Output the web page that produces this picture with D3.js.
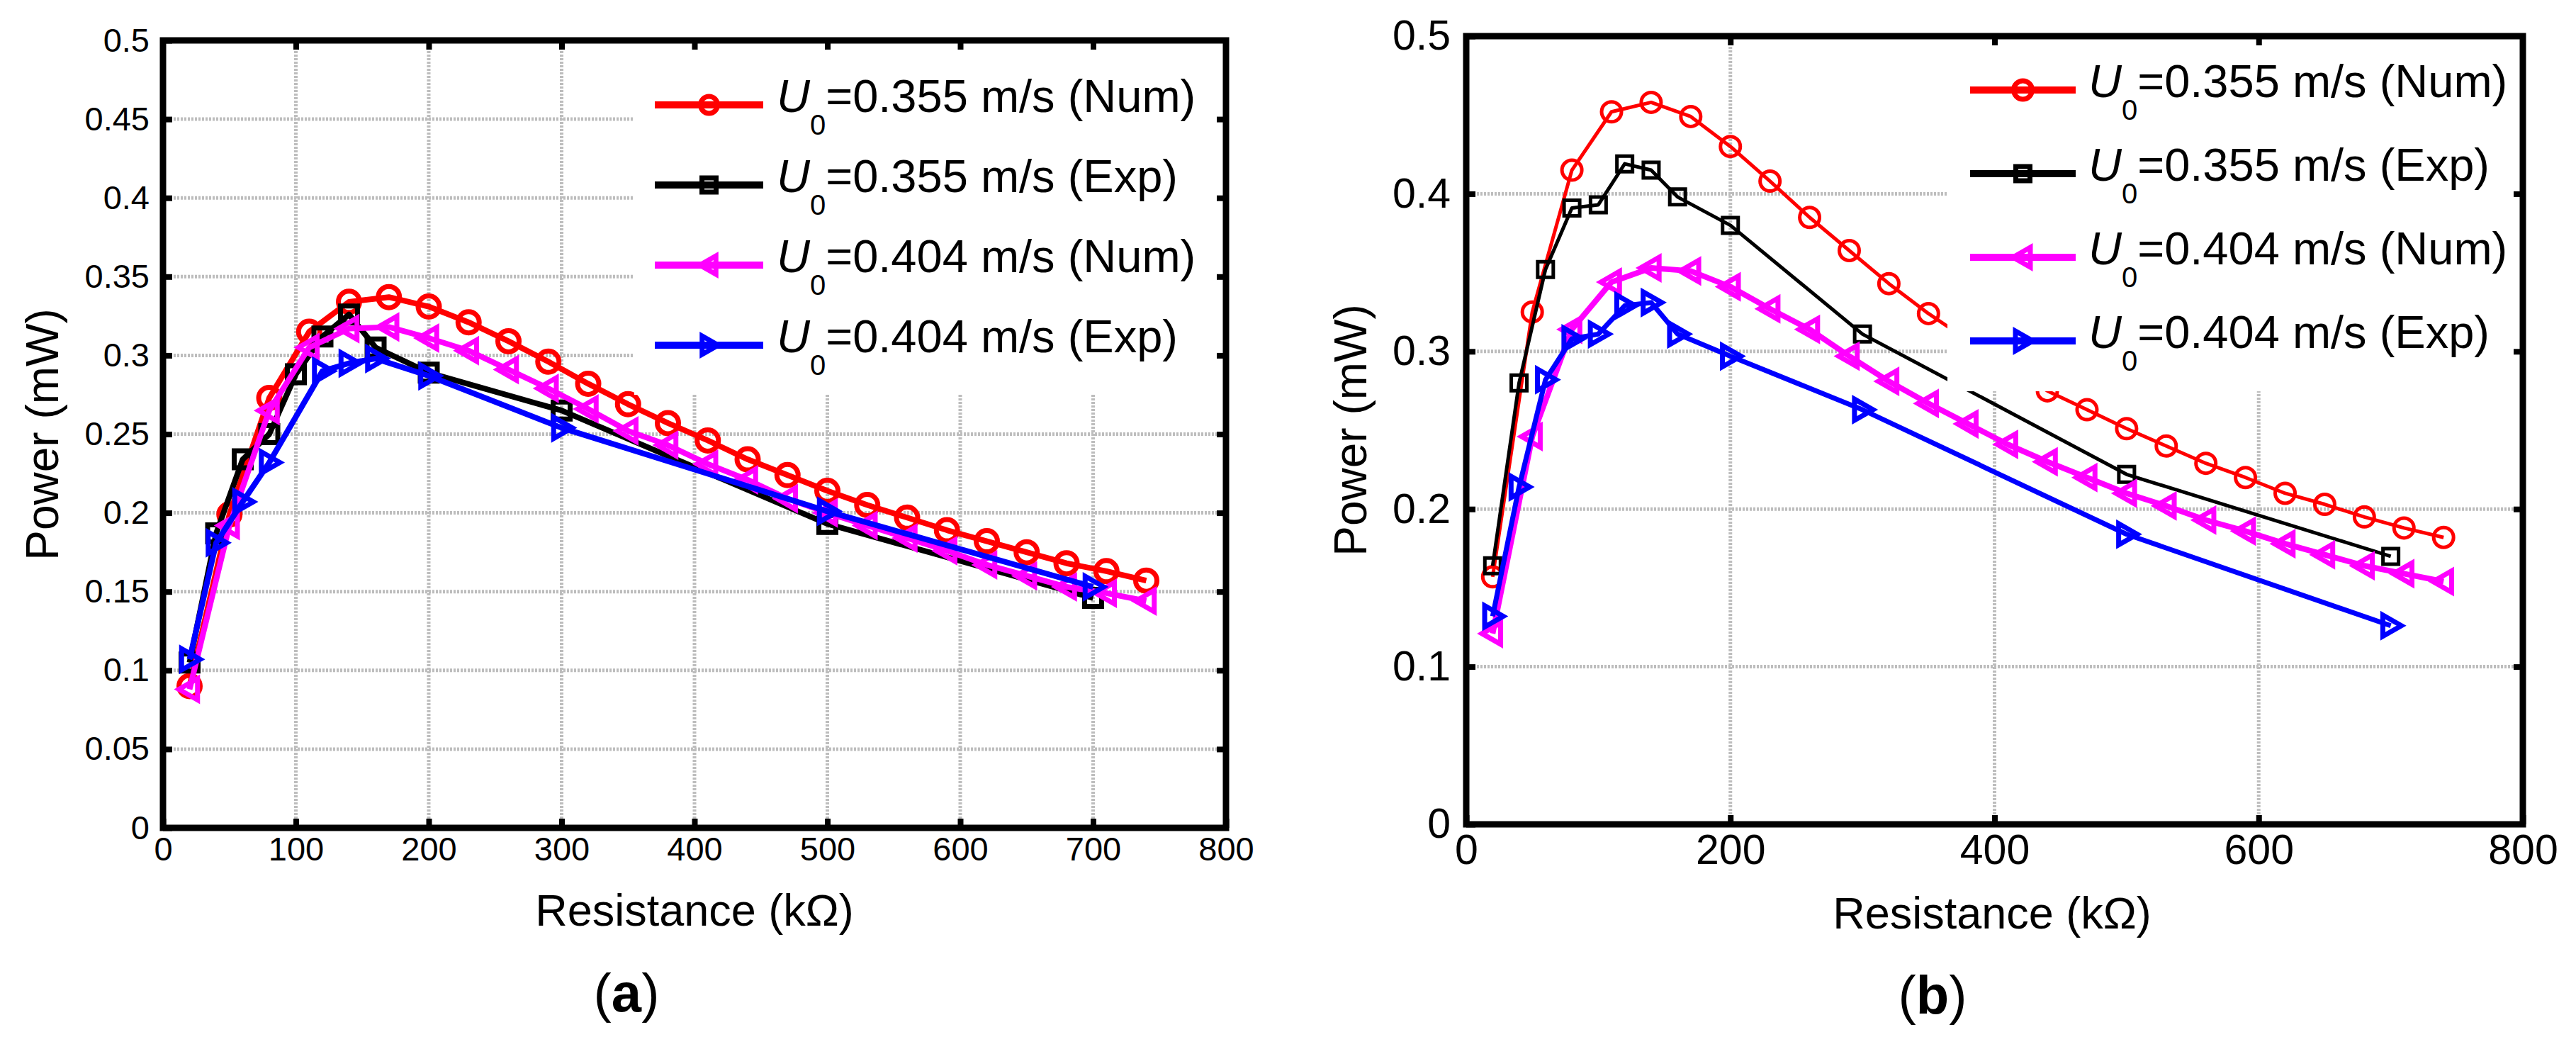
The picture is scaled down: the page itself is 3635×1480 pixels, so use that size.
<!DOCTYPE html>
<html>
<head>
<meta charset="utf-8">
<script src="https://cdn.jsdelivr.net/npm/d3@7"></script>
<style>
  body { margin: 0; background: #fff; }
  svg { display: block; }
  text { font-family: "Liberation Sans", Arial, sans-serif; fill: #000; }
</style>
</head>
<body>
<div id="chart-area"></div>
<script>
// no serif face is installed, so Liberation Sans sized to the original text widths
var FONT = "'Liberation Sans', Arial, sans-serif";

// resistance values (kOhm)
var resNum = [20, 50, 80, 110, 140, 170, 200, 230, 260, 290, 320, 350, 380, 410, 440, 470, 500, 530, 560, 590, 620, 650, 680, 710, 740];
var resExp = [20, 40, 60, 80, 100, 120, 140, 160, 200, 300, 500, 700];
var resExpBlueA = [20, 40, 60, 80, 120, 140, 160, 200, 300, 500, 700];

// panel (a) power (mW)
var aNum355 = [0.090, 0.199, 0.273, 0.315, 0.334, 0.337, 0.331, 0.321, 0.309, 0.296, 0.282, 0.269, 0.257, 0.246, 0.234, 0.224, 0.214, 0.205, 0.197, 0.189, 0.182, 0.175, 0.168, 0.163, 0.157];
var aExp355 = [0.105, 0.187, 0.234, 0.250, 0.288, 0.312, 0.326, 0.305, 0.289, 0.265, 0.193, 0.146];
var aNum404 = [0.088, 0.192, 0.265, 0.305, 0.317, 0.318, 0.311, 0.303, 0.291, 0.279, 0.266, 0.252, 0.243, 0.231, 0.221, 0.209, 0.200, 0.192, 0.184, 0.176, 0.167, 0.160, 0.153, 0.149, 0.144];
var aExp404 = [0.107, 0.181, 0.207, 0.232, 0.290, 0.295, 0.298, 0.287, 0.254, 0.201, 0.153];

// panel (b) power (mW)
var bNum355 = [0.157, 0.325, 0.415, 0.452, 0.458, 0.449, 0.430, 0.408, 0.385, 0.364, 0.343, 0.324, 0.307, 0.290, 0.275, 0.263, 0.251, 0.240, 0.229, 0.220, 0.210, 0.203, 0.195, 0.188, 0.182];
var bExp355 = [0.164, 0.280, 0.352, 0.391, 0.393, 0.419, 0.415, 0.398, 0.380, 0.311, 0.222, 0.170];
var bNum404 = [0.121, 0.246, 0.314, 0.344, 0.353, 0.351, 0.341, 0.327, 0.314, 0.297, 0.281, 0.267, 0.254, 0.241, 0.230, 0.220, 0.210, 0.202, 0.193, 0.186, 0.178, 0.171, 0.164, 0.159, 0.154];
var bExp404 = [0.132, 0.214, 0.282, 0.308, 0.311, 0.329, 0.331, 0.311, 0.297, 0.263, 0.184, 0.126];

// ticks
var xTicksA = [0, 100, 200, 300, 400, 500, 600, 700, 800];
var yTicksA = [0, 0.05, 0.1, 0.15, 0.2, 0.25, 0.3, 0.35, 0.4, 0.45, 0.5];
var xTicksB = [0, 200, 400, 600, 800];
var yTicksB = [0, 0.1, 0.2, 0.3, 0.4, 0.5];

var legendNames = ["=0.355 m/s (Num)", "=0.355 m/s (Exp)", "=0.404 m/s (Num)", "=0.404 m/s (Exp)"];
var seriesColors = ["#ff0000", "#000000", "#ff00ff", "#0000ff"];
var seriesMarkers = ["circle", "square", "triLeft", "triRight"];

var W = 3635, H = 1480;

var svg = d3.select("#chart-area")
    .append("svg")
        .attr("width", W)
        .attr("height", H);

svg.append("rect").attr("width", W).attr("height", H).attr("fill", "#fff");

var panels = [
    {
        left: 230, right: 1730, top: 57, bottom: 1168,
        xTicks: xTicksA, yTicks: yTicksA,
        tickFont: 47, xTickPad: 12, yTickPad: 19,
        series: [
            { x: resNum, y: aNum355, lw: 8, ms: 15, sw: 7 },
            { x: resExp, y: aExp355, lw: 8, ms: 12, sw: 7 },
            { x: resNum, y: aNum404, lw: 8, ms: 15, sw: 7 },
            { x: resExpBlueA, y: aExp404, lw: 8, ms: 15, sw: 7 }
        ],
        legend: { boxLeft: 895, boxBottom: 557, lineX0: 924, lineX1: 1077, textX: 1096, y0: 148, dy: 113 },
        legMs: [12, 10, 13, 13],
        xLabel: { x: 980, y: 1306 }, yLabel: { x: 82, y: 613 },
        tag: { x: 884, y: 1427, letter: "a" }
    },
    {
        left: 2069, right: 3560, top: 51, bottom: 1163,
        xTicks: xTicksB, yTicks: yTicksB,
        tickFont: 59, xTickPad: 14, yTickPad: 22,
        series: [
            { x: resNum, y: bNum355, lw: 5, ms: 14, sw: 5 },
            { x: resExp, y: bExp355, lw: 5, ms: 11, sw: 5 },
            { x: resNum, y: bNum404, lw: 8, ms: 15, sw: 7 },
            { x: resExp, y: bExp404, lw: 7, ms: 15, sw: 7 }
        ],
        legend: { boxLeft: 2748, boxBottom: 552, lineX0: 2780, lineX1: 2929, textX: 2947, y0: 127, dy: 118 },
        legMs: [13, 10, 14, 14],
        xLabel: { x: 2811, y: 1310 }, yLabel: { x: 1928, y: 607 },
        tag: { x: 2727, y: 1430, letter: "b" }
    }
];

panels.forEach(drawPanel);

function markerPath(type, s) {
    if (type == "triLeft") return "M" + (-s) + ",0L" + (s * 0.75) + "," + (-s) + "L" + (s * 0.75) + "," + s + "Z";
    if (type == "triRight") return "M" + s + ",0L" + (-s * 0.75) + "," + (-s) + "L" + (-s * 0.75) + "," + s + "Z";
    if (type == "square") return "M" + (-s) + "," + (-s) + "H" + s + "V" + s + "H" + (-s) + "Z";
    return null;
}

function addMarker(g, type, cx, cy, s, color, sw) {
    if (type == "circle") {
        g.append("circle")
            .attr("cx", cx).attr("cy", cy).attr("r", s)
            .attr("fill", "none").attr("stroke", color).attr("stroke-width", sw);
    } else {
        g.append("path")
            .attr("d", markerPath(type, s))
            .attr("transform", "translate(" + cx + "," + cy + ")")
            .attr("fill", "none").attr("stroke", color).attr("stroke-width", sw)
            .attr("stroke-linejoin", "miter");
    }
}

function drawPanel(p) {
    var x = d3.scaleLinear().domain([0, 800]).range([p.left, p.right]);
    var y = d3.scaleLinear().domain([0, 0.5]).range([p.bottom, p.top]);

    var g = svg.append("g").attr("font-family", FONT);

    // grid (dotted grey)
    var gx = p.xTicks.slice(1, -1), gy = p.yTicks.slice(1, -1);
    g.append("g").selectAll("line").data(gx).join("line")
        .attr("x1", d => x(d)).attr("x2", d => x(d))
        .attr("y1", p.top).attr("y2", p.bottom)
        .attr("stroke", "#bdbdbd").attr("stroke-width", 5).attr("stroke-dasharray", "3,2");
    g.append("g").selectAll("line").data(gy).join("line")
        .attr("y1", d => y(d)).attr("y2", d => y(d))
        .attr("x1", p.left).attr("x2", p.right)
        .attr("stroke", "#bdbdbd").attr("stroke-width", 5).attr("stroke-dasharray", "3,2");

    // series
    p.series.forEach(function(s, i) {
        var pts = s.x.map((xv, k) => [xv, s.y[k]]);
        var line = d3.line().x(d => x(d[0])).y(d => y(d[1]));
        var sg = g.append("g");
        sg.append("path")
            .attr("d", line(pts))
            .attr("fill", "none")
            .attr("stroke", seriesColors[i])
            .attr("stroke-width", s.lw)
            .attr("stroke-linejoin", "round");
        pts.forEach(function(d) {
            addMarker(sg, seriesMarkers[i], x(d[0]), y(d[1]), s.ms, seriesColors[i], s.sw);
        });
    });

    // legend, white box hides what is behind it
    var L = p.legend;
    g.append("rect")
        .attr("x", L.boxLeft).attr("y", p.top)
        .attr("width", p.right - L.boxLeft).attr("height", L.boxBottom - p.top)
        .attr("fill", "#fff");
    legendNames.forEach(function(name, i) {
        var ly = L.y0 + i * L.dy;
        g.append("line")
            .attr("x1", L.lineX0).attr("x2", L.lineX1)
            .attr("y1", ly).attr("y2", ly)
            .attr("stroke", seriesColors[i]).attr("stroke-width", 10);
        addMarker(g, seriesMarkers[i], (L.lineX0 + L.lineX1) / 2, ly, p.legMs[i], seriesColors[i], 7);
        var t = g.append("text")
            .attr("x", L.textX).attr("y", ly + 10)
            .style("font-family", FONT)
            .style("font-size", "65px");
        t.append("tspan").style("font-style", "italic").text("U");
        t.append("tspan").style("font-size", "40px").attr("dy", 32).text("0");
        t.append("tspan").attr("dy", -32).text(name);
    });

    // axes (inward ticks)
    var fmt = d => String(d);
    var axL = g.append("g").attr("transform", "translate(" + p.left + ",0)")
        .call(d3.axisLeft(y).tickValues(p.yTicks).tickFormat(fmt).tickSize(-13).tickPadding(p.yTickPad));
    var axR = g.append("g").attr("transform", "translate(" + p.right + ",0)")
        .call(d3.axisRight(y).tickValues(gy).tickFormat("").tickSize(-13));
    var axB = g.append("g").attr("transform", "translate(0," + p.bottom + ")")
        .call(d3.axisBottom(x).tickValues(p.xTicks).tickFormat(fmt).tickSize(-13).tickPadding(p.xTickPad));
    var axT = g.append("g").attr("transform", "translate(0," + p.top + ")")
        .call(d3.axisTop(x).tickValues(gx).tickFormat("").tickSize(-13));

    [axL, axR, axB, axT].forEach(function(a) {
        a.attr("font-family", FONT);
        a.select(".domain").remove();
        a.selectAll(".tick line").attr("stroke", "#000").attr("stroke-width", 8);
        a.selectAll(".tick text")
            .style("font-family", FONT)
            .style("font-size", p.tickFont + "px")
            .attr("fill", "#000");
    });
    axB.selectAll(".tick text").attr("dy", "0.72em");

    // box
    g.append("rect")
        .attr("x", p.left).attr("y", p.top)
        .attr("width", p.right - p.left).attr("height", p.bottom - p.top)
        .attr("fill", "none").attr("stroke", "#000").attr("stroke-width", 9);

    // labels
    g.append("text")
        .attr("x", p.xLabel.x).attr("y", p.xLabel.y)
        .attr("text-anchor", "middle")
        .style("font-family", FONT)
        .style("font-size", "63px")
        .text("Resistance (k\u03A9)");

    g.append("text")
        .attr("transform", "translate(" + p.yLabel.x + "," + p.yLabel.y + ") rotate(-90)")
        .attr("text-anchor", "middle")
        .style("font-family", FONT)
        .style("font-size", "64px")
        .text("Power (mW)");

    var tag = g.append("text")
        .attr("x", p.tag.x).attr("y", p.tag.y)
        .attr("text-anchor", "middle")
        .style("font-family", FONT)
        .style("font-size", "76px");
    tag.append("tspan").text("(");
    tag.append("tspan").style("font-weight", "bold").text(p.tag.letter);
    tag.append("tspan").text(")");
}
</script>
</body>
</html>
